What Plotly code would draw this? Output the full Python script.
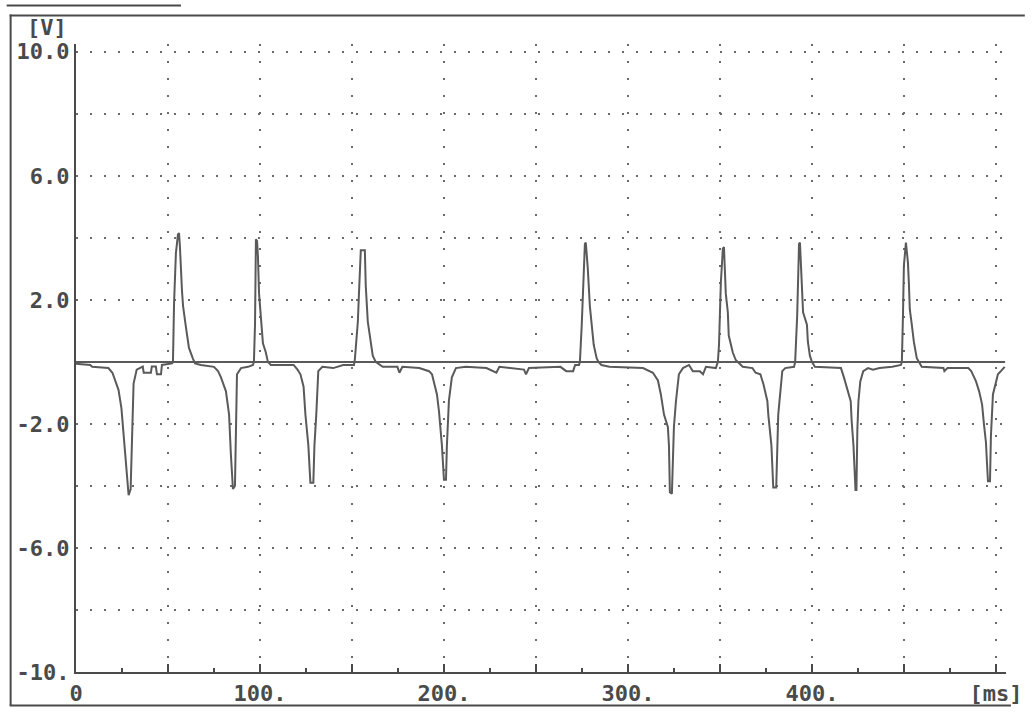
import plotly.graph_objects as go

# ---------------- data ----------------
time_ms = [
    0, 7.7, 8.8, 17.6, 19.8, 21.4, 23.1, 24.7, 25.8, 26.9, 28.0, 28.6, 29.7, 30.2, 30.8, 31.3, 33.0, 36.3, 36.8, 40.7, 41.2, 43.4, 44.0, 46.2, 46.7, 52.2,
    52.7, 53.3, 54.3, 55.4, 56.0, 56.5, 57.6, 58.2, 59.8, 61.4, 63.6, 64.7, 67.9, 75.0, 77.2, 78.8, 81.5, 83.2, 84.2, 85.3, 86.4, 87.0, 87.5, 89.7, 93.5, 96.2,
    96.7, 97.3, 97.8, 98.4, 98.9, 99.5, 100.5, 101.6, 103.2, 104.3, 105.9, 118.3, 120.4, 122.0, 123.7, 124.7, 126.3, 127.4, 129.0, 129.6, 130.6, 131.7, 133.9, 139.8, 145.2, 151.1,
    151.6, 153.2, 153.8, 154.8, 157.0, 157.5, 158.6, 160.2, 161.3, 162.9, 165.1, 166.7, 174.7, 175.8, 177.4, 186.6, 191.9, 193.5, 196.2, 197.3, 198.9, 200.0, 201.1, 201.6, 202.7, 204.3, 206.5, 211.8, 223.1, 228.5, 230.1, 243.5, 244.6, 246.2, 263.3, 266.5, 270.2, 271.3, 273.4,
    273.9, 274.9, 276.0, 276.6, 277.1, 278.2, 279.3, 280.3, 281.4, 283.0, 284.0, 285.6, 289.9, 308.2, 313.6, 316.3, 317.9, 319.6, 321.7, 322.3, 322.8, 323.9, 324.5, 325.0, 326.1, 327.7, 329.9, 333.2, 335.3, 339.1, 340.8, 342.4, 347.8, 348.4,
    348.9, 349.5, 350.5, 351.6, 352.2, 353.2, 354.3, 354.8, 357.0, 358.6, 359.7, 362.4, 367.7, 369.4, 372.0, 373.7, 375.8, 376.3, 378.0, 378.5, 379.0, 380.6, 381.2, 381.7, 383.9, 385.5, 390.3,
    390.9, 392.0, 392.5, 393.0, 393.5, 394.6, 395.2, 397.3, 397.8, 398.9, 400.0, 401.6, 415.8, 417.4, 418.9, 421.1, 421.6, 422.6, 423.7, 424.2, 424.7, 425.3, 426.3, 427.9, 430.5, 433.2, 436.8, 443.7, 448.4,
    448.9, 449.5, 450.0, 451.1, 452.2, 452.7, 453.2, 454.3, 455.4, 457.0, 458.1, 459.7, 471.5, 472.0, 473.7, 485.0, 486.6, 489.2, 490.9, 492.5, 493.5, 494.6, 495.2, 495.7, 496.8, 497.3, 498.4, 500.0, 501.1, 502.7, 504.8,
]
volts = [
    -0.06, -0.1, -0.16, -0.2, -0.35, -0.6, -0.9, -1.5, -2.3, -3.1, -3.7, -4.3, -4.1, -3.0, -1.7, -0.7, -0.25, -0.15, -0.35, -0.35, -0.15, -0.15, -0.4, -0.4, -0.1, -0.05,
    0, 1.9, 3.5, 4.1, 4.15, 3.7, 2.3, 1.8, 1.1, 0.45, 0.1, -0.05, -0.1, -0.16, -0.3, -0.5, -0.95, -1.7, -3.0, -4.1, -4.0, -2.5, -0.4, -0.2, -0.16, -0.1,
    0, 1.2, 3.95, 3.9, 3.4, 2.2, 1.3, 0.6, 0.3, 0, -0.1, -0.1, -0.25, -0.4, -0.8, -1.7, -2.7, -3.9, -3.9, -2.7, -1.7, -0.3, -0.16, -0.2, -0.1, -0.1,
    0.1, 1.3, 2.2, 3.6, 3.6, 2.45, 1.3, 0.6, 0.2, 0, -0.1, -0.16, -0.16, -0.35, -0.16, -0.2, -0.3, -0.4, -1.05, -1.6, -2.7, -3.8, -3.8, -2.7, -1.25, -0.5, -0.2, -0.16, -0.2, -0.35, -0.16, -0.25, -0.4, -0.2, -0.16, -0.3, -0.3, -0.1, -0.1,
    0, 1.2, 2.85, 3.8, 3.85, 3.0, 1.8, 1.2, 0.55, 0.12, 0, -0.1, -0.16, -0.2, -0.35, -0.6, -1.05, -1.7, -2.1, -2.7, -4.2, -4.25, -2.7, -2.1, -1.27, -0.4, -0.2, -0.1, -0.3, -0.3, -0.4, -0.16, -0.2, -0.1,
    0, 0.55, 2.55, 3.65, 3.7, 2.2, 1.6, 0.85, 0.3, 0.06, 0, -0.16, -0.2, -0.35, -0.4, -0.73, -1.27, -1.7, -2.7, -3.8, -4.05, -4.05, -2.7, -1.7, -0.3, -0.2, -0.16,
    0, 1.5, 2.7, 3.8, 3.85, 2.55, 1.6, 1.2, 0.65, 0.2, 0, -0.16, -0.2, -0.5, -0.83, -1.27, -1.9, -2.7, -4.13, -4.13, -2.2, -1.27, -0.63, -0.3, -0.2, -0.25, -0.2, -0.16, -0.1,
    0, 1.5, 3.1, 3.85, 3.2, 2.55, 1.7, 1.2, 0.65, 0.12, 0, -0.16, -0.2, -0.3, -0.2, -0.2, -0.3, -0.63, -0.95, -1.37, -2.0, -2.6, -3.3, -3.85, -3.85, -2.4, -1.05, -0.63, -0.4, -0.3, -0.16,
]
assert len(time_ms) == len(volts)

zero_ref_t = [0, 505]
zero_ref_v = [0, 0]

x_tick_vals = [0, 50, 100, 150, 200, 250, 300, 350, 400, 450, 500]
x_tick_text = ["0", "", "100.", "", "200.", "", "300.", "", "400.", "", "[ms]"]
x_minor_vals = [25, 75, 125, 175, 225, 275, 325, 375, 425, 475]
y_tick_vals = [-10, -8, -6, -4, -2, 0, 2, 4, 6, 8, 10]
y_tick_text = ["-10.", "", "-6.0", "", "-2.0", "", "2.0", "", "6.0", "", "10.0"]

INK = "#4a4a4a"
TRACE = "#5a5a5a"
GRID = "#6a6a6a"
FONT = dict(family="DejaVu Sans Mono", size=22, color=INK, weight="bold")

fig = go.Figure()
fig.add_trace(go.Scatter(x=zero_ref_t, y=zero_ref_v, mode="lines",
                         line=dict(color=TRACE, width=2), hoverinfo="skip", showlegend=False))
fig.add_trace(go.Scatter(x=time_ms, y=volts, mode="lines",
                         line=dict(color=TRACE, width=2), showlegend=False))

W, H = 1034, 718
# plot area in page pixels: x 76..1015, y 44..682
L, R, T, B = 76, W - 1015, 44, H - 682
pw, ph = W - L - R, H - T - B


def px(x):  # page pixel -> paper x
    return (x - L) / pw


def py(y):  # page pixel -> paper y
    return (H - B - y) / ph


frame = dict(type="line", xref="paper", yref="paper", line=dict(color=INK, width=2))
shapes = [
    dict(frame, x0=px(10), x1=px(10), y0=py(14), y1=py(716)),
    dict(frame, x0=px(9), x1=px(1034), y0=py(15), y1=py(15)),
    dict(frame, x0=px(9), x1=px(1020), y0=py(716), y1=py(716)),
    dict(frame, x0=px(6), x1=px(182), y0=py(5), y1=py(5)),
]

fig.update_layout(
    width=W, height=H,
    margin=dict(l=L, r=R, t=T, b=B, pad=0),
    paper_bgcolor="white", plot_bgcolor="white",
    font=FONT,
    showlegend=False,
    shapes=shapes,
    annotations=[dict(text="[V]", xref="paper", yref="paper", x=px(47), y=py(27),
                      xanchor="center", yanchor="middle", showarrow=False, font=FONT)],
    xaxis=dict(
        range=[0, 505.5], showline=True, linecolor=INK, linewidth=2,
        tickmode="array", tickvals=x_tick_vals, ticktext=x_tick_text,
        ticks="inside", ticklen=8, tickwidth=2, tickcolor=INK,
        ticklabelstandoff=1,
        showgrid=True, gridcolor=GRID, gridwidth=2, griddash="2px,15px",
        zeroline=False,
        minor=dict(tickmode="array", tickvals=x_minor_vals, ticks="inside",
                   ticklen=4, tickwidth=2, tickcolor=INK, showgrid=False),
    ),
    yaxis=dict(
        range=[-10, 10.25], showline=True, linecolor=INK, linewidth=2,
        tickmode="array", tickvals=y_tick_vals, ticktext=y_tick_text,
        ticks="", showgrid=True, gridcolor=GRID, gridwidth=2, griddash="2px,12px",
        zeroline=False,
    ),
)

POST = (
    "document.documentElement.style.cssText='margin:0;padding:0;overflow:hidden';"
    "document.body.style.cssText='margin:0;padding:0;overflow:hidden';"
)

fig.write_html("out.html", config={"displayModeBar": False}, post_script=POST)
